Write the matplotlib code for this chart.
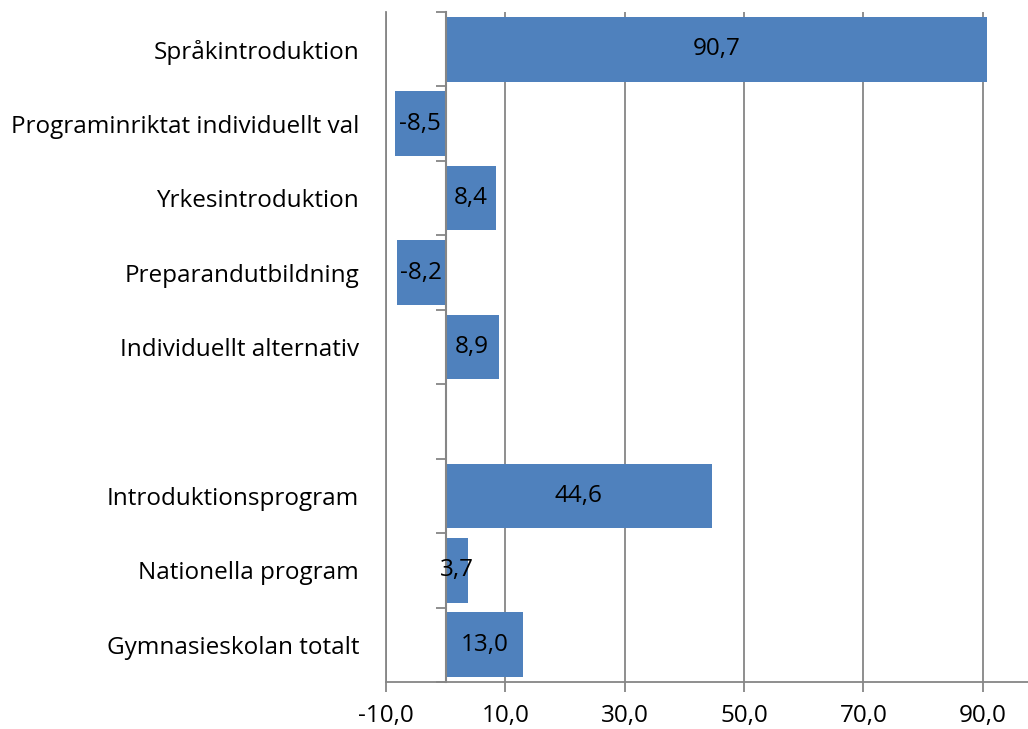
import matplotlib
matplotlib.use("Agg")
import matplotlib.pyplot as plt
import numpy as np
from matplotlib.ticker import FixedLocator, FuncFormatter

categories = ["Språkintroduktion", "Programinriktat individuellt val", "Yrkesintroduktion",
              "Preparandutbildning", "Individuellt alternativ", "",
              "Introduktionsprogram", "Nationella program", "Gymnasieskolan totalt"]
values = [90.7, -8.5, 8.4, -8.2, 8.9, None, 44.6, 3.7, 13.0]
xticks = [-10, 10, 30, 50, 70, 90]

plt.rcParams['font.family'] = ['Open Sans', 'DejaVu Sans']
FS = 17.5
GRAY = '#868686'
BLUE = '#4F81BD'

fig = plt.figure(figsize=(10.28, 7.29), dpi=100)
ax = fig.add_axes([386/1028, 1 - 682/729, 1 - 386/1028, (682 - 12)/729])

pos = np.arange(len(categories))
for i, v in enumerate(values):
    if v is None:
        continue
    ax.barh(pos[i], v, height=0.87, color=BLUE, zorder=3)
    ax.text(v / 2, pos[i], f"{v:.1f}".replace('.', ','), ha='center', va='center',
            fontsize=FS, color='black', zorder=7)

ax.set_xlim(-10, 97.6)
ax.set_ylim(len(categories) - 0.5, -0.5)

ax.set_xticks(xticks)
ax.xaxis.set_major_formatter(FuncFormatter(lambda x, p: f"{x:.1f}".replace('.', ',')))
ax.grid(axis='x', color=GRAY, linewidth=1.3, zorder=1)
ax.tick_params(axis='x', direction='out', length=7, width=1.3, color=GRAY,
               labelsize=FS, pad=9)

ax.set_yticks(pos)
ax.set_yticklabels(categories)
ax.yaxis.set_minor_locator(FixedLocator(np.arange(-0.5, len(categories), 1.0)))
ax.tick_params(axis='y', which='major', left=False, right=False, labelleft=True,
               labelsize=FS, pad=22 / 1.389)
ax.tick_params(axis='y', which='minor', left=False, right=True, direction='in',
               length=7, width=1.3, color=GRAY)

ax.spines['top'].set_visible(False)
ax.spines['left'].set_color(GRAY)
ax.spines['left'].set_linewidth(1.3)
ax.spines['bottom'].set_color(GRAY)
ax.spines['bottom'].set_linewidth(1.3)
ax.spines['right'].set_position(('data', 0))
ax.spines['right'].set_color(GRAY)
ax.spines['right'].set_linewidth(1.5)
ax.spines['right'].set_zorder(5)

fig.savefig('out.png', dpi=100)
